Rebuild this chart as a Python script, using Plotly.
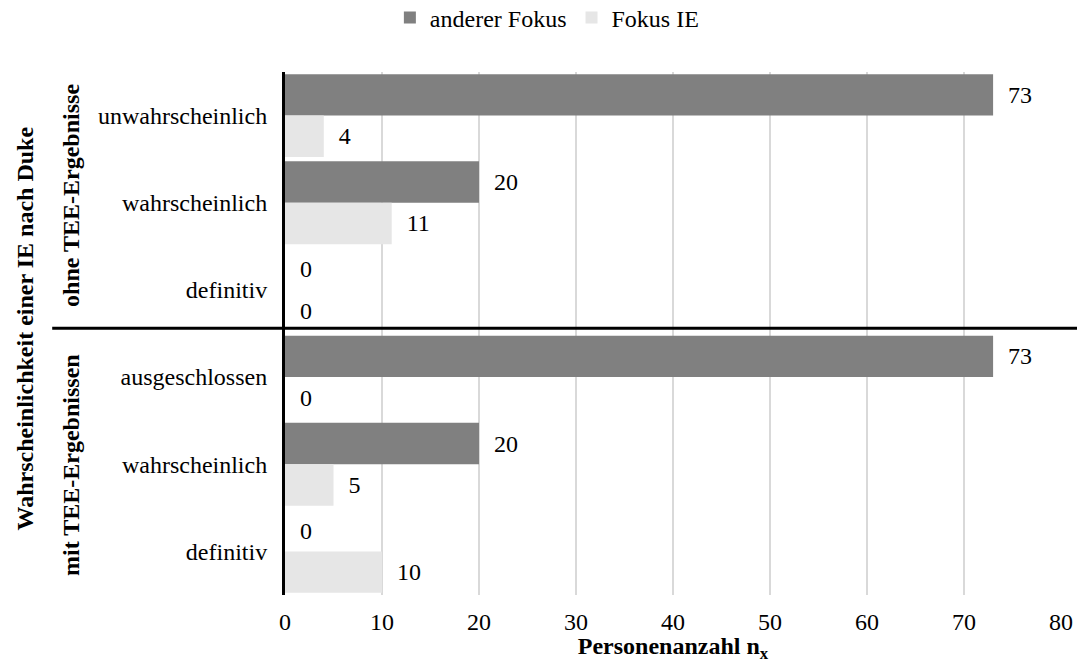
import plotly.graph_objects as go

# Categories (top to bottom) and counts per focus group
categories = ["unwahrscheinlich", "wahrscheinlich", "definitiv",
              "ausgeschlossen", "wahrscheinlich", "definitiv"]
anderer_fokus = [73, 20, 0, 73, 20, 0]
fokus_ie = [4, 11, 0, 0, 5, 10]
series_names = ["anderer Fokus", "Fokus IE"]
x_ticks = [0, 10, 20, 30, 40, 50, 60, 70, 80]

FONT = "Liberation Serif"
FS = 24
positions = list(range(len(categories)))

fig = go.Figure()
for name, vals, color in [(series_names[0], anderer_fokus, "#808080"),
                          (series_names[1], fokus_ie, "#e6e6e6")]:
    fig.add_trace(go.Bar(
        name=name, y=positions, x=vals, orientation="h",
        marker=dict(color=color, line=dict(width=0)),
        text=[f"\u00a0\u00a0{v}" for v in vals],
        textposition="outside", cliponaxis=False,
        textfont=dict(family=FONT, size=FS, color="black"),
        hoverinfo="skip",
    ))

fig.update_layout(
    width=1077, height=663,
    margin=dict(l=285, r=16, t=72, b=68, autoexpand=False),
    paper_bgcolor="white", plot_bgcolor="white",
    barmode="group", bargap=0.05, bargroupgap=0,
    font=dict(family=FONT, size=FS, color="black"),
    showlegend=True,
    legend=dict(orientation="h", xref="container", yref="container",
                x=0.362, y=0.973, xanchor="left", yanchor="middle",
                font=dict(family=FONT, size=FS, color="black"),
                traceorder="normal", itemclick=False),
)

fig.update_xaxes(
    range=[0, 80], tickvals=x_ticks, ticktext=[str(t) for t in x_ticks],
    showgrid=True, gridcolor="#d9d9d9", gridwidth=2,
    zeroline=False, showline=False, ticks="",
    ticklabelstandoff=10, automargin=False,
    tickfont=dict(family=FONT, size=FS, color="black"),
    title=dict(text="<b>Personenanzahl n<sub>x</sub></b>", standoff=13,
               font=dict(family=FONT, size=FS, color="black")),
)
fig.update_yaxes(
    range=[5.5, -0.5], tickvals=positions, ticktext=categories,
    showgrid=False, zeroline=False,
    showline=True, linecolor="black", linewidth=3,
    ticks="", ticklabelstandoff=10, automargin=False,
    tickfont=dict(family=FONT, size=FS, color="black"),
)

# Separator between the two result groups
fig.add_shape(type="line", xref="paper", yref="y",
              x0=-0.30, x1=1.03, y0=2.44, y1=2.44,
              line=dict(color="black", width=3))

# Group labels and outer axis label
group_labels = ["<b>ohne TEE-Ergebnisse</b>", "<b>mit TEE-Ergebnissen</b>"]
for text, yp in zip(group_labels, [0.765, 0.2486]):
    fig.add_annotation(text=text, xref="paper", yref="paper",
                       x=-0.2758, y=yp, textangle=-90, showarrow=False,
                       xanchor="center", yanchor="middle",
                       font=dict(family=FONT, size=FS, color="black"))
fig.add_annotation(text="<b>Wahrscheinlichkeit einer IE nach Duke</b>",
                   xref="paper", yref="paper", x=-0.335, y=0.5096,
                   textangle=-90, showarrow=False,
                   xanchor="center", yanchor="middle",
                   font=dict(family=FONT, size=FS, color="black"))

fig.write_html("out.html")
